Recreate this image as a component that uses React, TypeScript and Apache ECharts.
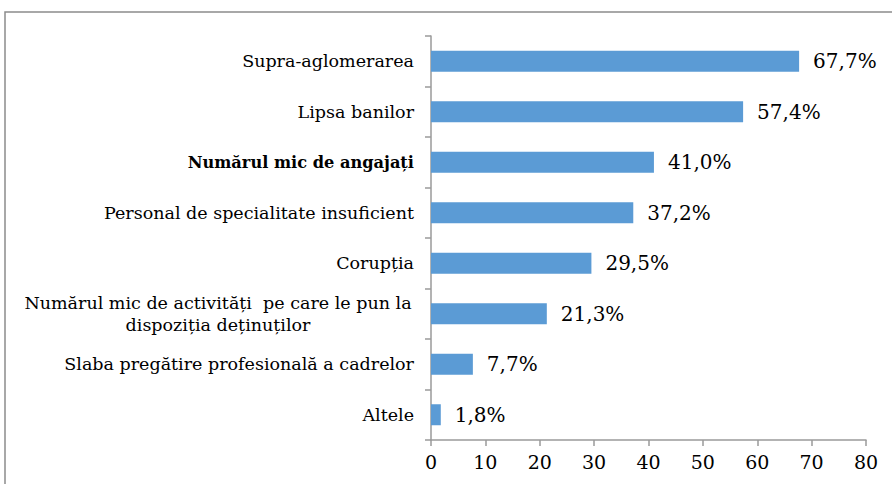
import React, { useEffect, useRef } from "react";
import * as echarts from "echarts";

const categories = [
  "Supra-aglomerarea",
  "Lipsa banilor",
  "Numărul mic de angajați",
  "Personal de specialitate insuficient",
  "Corupția",
  "Numărul mic de activități  pe care le pun la\ndispoziția deținuților",
  "Slaba pregătire profesională a cadrelor",
  "Altele",
];
const values = [67.7, 57.4, 41.0, 37.2, 29.5, 21.3, 7.7, 1.8];
const xTicks = [0, 10, 20, 30, 40, 50, 60, 70, 80];

export default function App() {
  const ref = useRef<HTMLDivElement>(null);
  useEffect(() => {
    if (!ref.current) return;
    const chart = echarts.init(ref.current, null, { renderer: "svg" });
    const cats = [...categories].reverse();
    const vals = [...values].reverse();
    const font = "DejaVu Serif";
    chart.setOption({
      animation: false,
      textStyle: { fontFamily: font },
      graphic: [
        {
          type: "rect",
          shape: { x: 5, y: 12, width: 1000, height: 1000 },
          style: { fill: "none", stroke: "#8c8c8c", lineWidth: 1.5 },
          silent: true,
        },
      ],
      grid: { left: 431, right: 26, top: 36, bottom: 44, containLabel: false },
      xAxis: {
        type: "value",
        min: xTicks[0],
        max: xTicks[xTicks.length - 1],
        interval: 10,
        splitLine: { show: false },
        axisLine: { show: true, lineStyle: { color: "#9a9a9a", width: 1.5 } },
        axisTick: { show: true, length: 6, lineStyle: { color: "#9a9a9a", width: 1.5 } },
        axisLabel: { fontFamily: font, fontSize: 19, color: "#000", margin: 12 },
      },
      yAxis: {
        type: "category",
        data: cats,
        axisLine: { show: true, lineStyle: { color: "#9a9a9a", width: 1.5 } },
        axisTick: { show: true, length: 6, lineStyle: { color: "#9a9a9a", width: 1.5 } },
        axisLabel: {
          fontFamily: font,
          fontSize: 17.5,
          color: "#000",
          margin: 17,
          formatter: (v: string) => {
            if (v === categories[2]) return "{b|" + v + "}";
            if (v.includes("\n")) {
              const parts = v.split("\n");
              return parts.map((p) => "{c|" + p + "}").join("\n");
            }
            return v;
          },
          rich: {
            b: { fontFamily: font, fontSize: 16.2, fontWeight: "bold", color: "#000" },
            c: { fontFamily: font, fontSize: 17.5, color: "#000", width: 392, align: "center", lineHeight: 22 },
          },
        },
      },
      series: [
        {
          type: "bar",
          data: vals,
          barWidth: 21,
          itemStyle: { color: "#5B9BD5" },
          label: {
            show: true,
            position: "right",
            distance: 14,
            fontFamily: font,
            fontSize: 20,
            color: "#000",
            formatter: (p: any) => p.value.toFixed(1).replace(".", ",") + "%",
          },
        },
      ],
    });
    return () => chart.dispose();
  }, []);
  return (
    <div
      ref={ref}
      style={{ position: "fixed", left: 0, top: 0, width: 892, height: 484, background: "#fff" }}
    />
  );
}
